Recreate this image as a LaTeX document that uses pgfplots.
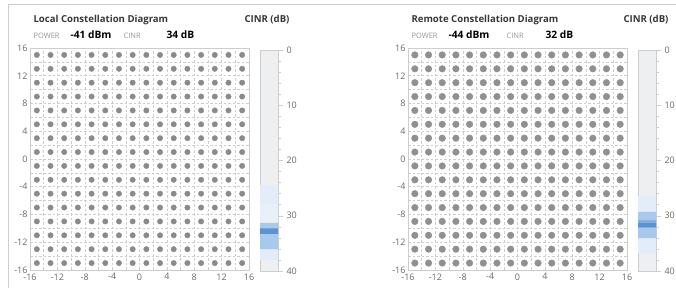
\documentclass[border=0pt]{standalone}
\usepackage{pgfplots}
\pgfplotsset{compat=1.18}
\usepackage{pgfplotstable}
\usepackage{fontspec}
\setmainfont{Open Sans}
\definecolor{framegray}{RGB}{205,205,205}
\definecolor{gridgray}{RGB}{205,205,205}
\definecolor{labgray}{RGB}{105,105,105}
\definecolor{dotgray}{RGB}{138,138,138}
\definecolor{titlegray}{RGB}{55,55,55}
\definecolor{smallgray}{RGB}{150,150,150}
\definecolor{barbg}{RGB}{238,239,241}
\definecolor{blue0}{RGB}{234,240,248}
\definecolor{blue1}{RGB}{226,237,249}
\definecolor{blue2}{RGB}{168,201,236}
\definecolor{blue3}{RGB}{92,146,210}
\definecolor{blue4}{RGB}{135,176,225}

\pgfplotstableread[row sep=\\]{
x y \\
-15 15\\ -13 15\\ -11 15\\ -9 15\\ -7 15\\ -5 15\\ -3 15\\ -1 15\\ 1 15\\ 3 15\\ 5 15\\ 7 15\\ 9 15\\ 11 15\\ 13 15\\ 15 15\\
-15 13\\ -13 13\\ -11 13\\ -9 13\\ -7 13\\ -5 13\\ -3 13\\ -1 13\\ 1 13\\ 3 13\\ 5 13\\ 7 13\\ 9 13\\ 11 13\\ 13 13\\ 15 13\\
-15 11\\ -13 11\\ -11 11\\ -9 11\\ -7 11\\ -5 11\\ -3 11\\ -1 11\\ 1 11\\ 3 11\\ 5 11\\ 7 11\\ 9 11\\ 11 11\\ 13 11\\ 15 11\\
-15 9\\ -13 9\\ -11 9\\ -9 9\\ -7 9\\ -5 9\\ -3 9\\ -1 9\\ 1 9\\ 3 9\\ 5 9\\ 7 9\\ 9 9\\ 11 9\\ 13 9\\ 15 9\\
-15 7\\ -13 7\\ -11 7\\ -9 7\\ -7 7\\ -5 7\\ -3 7\\ -1 7\\ 1 7\\ 3 7\\ 5 7\\ 7 7\\ 9 7\\ 11 7\\ 13 7\\ 15 7\\
-15 5\\ -13 5\\ -11 5\\ -9 5\\ -7 5\\ -5 5\\ -3 5\\ -1 5\\ 1 5\\ 3 5\\ 5 5\\ 7 5\\ 9 5\\ 11 5\\ 13 5\\ 15 5\\
-15 3\\ -13 3\\ -11 3\\ -9 3\\ -7 3\\ -5 3\\ -3 3\\ -1 3\\ 1 3\\ 3 3\\ 5 3\\ 7 3\\ 9 3\\ 11 3\\ 13 3\\ 15 3\\
-15 1\\ -13 1\\ -11 1\\ -9 1\\ -7 1\\ -5 1\\ -3 1\\ -1 1\\ 1 1\\ 3 1\\ 5 1\\ 7 1\\ 9 1\\ 11 1\\ 13 1\\ 15 1\\
-15 -1\\ -13 -1\\ -11 -1\\ -9 -1\\ -7 -1\\ -5 -1\\ -3 -1\\ -1 -1\\ 1 -1\\ 3 -1\\ 5 -1\\ 7 -1\\ 9 -1\\ 11 -1\\ 13 -1\\ 15 -1\\
-15 -3\\ -13 -3\\ -11 -3\\ -9 -3\\ -7 -3\\ -5 -3\\ -3 -3\\ -1 -3\\ 1 -3\\ 3 -3\\ 5 -3\\ 7 -3\\ 9 -3\\ 11 -3\\ 13 -3\\ 15 -3\\
-15 -5\\ -13 -5\\ -11 -5\\ -9 -5\\ -7 -5\\ -5 -5\\ -3 -5\\ -1 -5\\ 1 -5\\ 3 -5\\ 5 -5\\ 7 -5\\ 9 -5\\ 11 -5\\ 13 -5\\ 15 -5\\
-15 -7\\ -13 -7\\ -11 -7\\ -9 -7\\ -7 -7\\ -5 -7\\ -3 -7\\ -1 -7\\ 1 -7\\ 3 -7\\ 5 -7\\ 7 -7\\ 9 -7\\ 11 -7\\ 13 -7\\ 15 -7\\
-15 -9\\ -13 -9\\ -11 -9\\ -9 -9\\ -7 -9\\ -5 -9\\ -3 -9\\ -1 -9\\ 1 -9\\ 3 -9\\ 5 -9\\ 7 -9\\ 9 -9\\ 11 -9\\ 13 -9\\ 15 -9\\
-15 -11\\ -13 -11\\ -11 -11\\ -9 -11\\ -7 -11\\ -5 -11\\ -3 -11\\ -1 -11\\ 1 -11\\ 3 -11\\ 5 -11\\ 7 -11\\ 9 -11\\ 11 -11\\ 13 -11\\ 15 -11\\
-15 -13\\ -13 -13\\ -11 -13\\ -9 -13\\ -7 -13\\ -5 -13\\ -3 -13\\ -1 -13\\ 1 -13\\ 3 -13\\ 5 -13\\ 7 -13\\ 9 -13\\ 11 -13\\ 13 -13\\ 15 -13\\
-15 -15\\ -13 -15\\ -11 -15\\ -9 -15\\ -7 -15\\ -5 -15\\ -3 -15\\ -1 -15\\ 1 -15\\ 3 -15\\ 5 -15\\ 7 -15\\ 9 -15\\ 11 -15\\ 13 -15\\ 15 -15\\
}\qam

\pgfplotsset{
  qam/.style={
    scale only axis, width=219pt, height=222pt,
    anchor=south west,
    xmin=-16, xmax=16, ymin=-16, ymax=16,
    xtick={-16,-12,...,16}, xticklabels={-16,-12,-8,-4,0,4,8,12,16},
    ytick={-16,-12,...,16}, yticklabels={-16,-12,-8,-4,0,4,8,12,16},
    minor xtick={-14,-10,...,14}, minor ytick={-14,-10,...,14},
    grid=both,
    major grid style={gridgray, dash pattern=on 2.5pt off 2pt, line width=0.5pt},
    minor grid style={gridgray, dash pattern=on 2.5pt off 2pt, line width=0.5pt},
    major tick length=0pt, minor tick length=0pt,
    axis line style={framegray, line width=0.6pt},
    ticklabel style={font=\fontsize{9}{10}\selectfont, text=labgray},
    xticklabel style={yshift=0pt},
    yticklabel style={xshift=1pt},
  },
  cbar/.style={
    scale only axis, width=18pt, height=221pt,
    anchor=south west,
    xmin=0, xmax=1, ymin=0, ymax=40, y dir=reverse,
    xtick=\empty,
    ytick={0,10,20,30,40}, yticklabels={0,10,20,30,40},
    minor ytick={2,4,...,38},
    ytick pos=right, yticklabel pos=right,
    tick align=outside,
    major tick length=5pt, minor tick length=3pt,
    tick style={gridgray, line width=0.5pt},
    axis background/.style={fill=barbg},
    axis line style={framegray, line width=0.6pt},
    ticklabel style={font=\fontsize{9}{10}\selectfont, text=labgray},
  },
}

\begin{document}
\begin{tikzpicture}
\useasboundingbox (0,0) rectangle (676pt,288pt);
\draw[framegray, line width=1pt] (8pt,0pt) -- (8pt,283pt) -- (676pt,283pt);

% ---------- Local ----------
\node[anchor=base west, text=titlegray, font=\fontsize{9.6}{11}\selectfont\bfseries] at (30pt,265pt) {Local Constellation Diagram};
\node[anchor=base east, text=titlegray, font=\fontsize{9.6}{11}\selectfont\bfseries] at (293pt,265pt) {CINR (dB)};
\node[anchor=base west, text=smallgray, font=\fontsize{7.5}{9}\selectfont] at (30pt,249pt) {POWER};
\node[anchor=base west, text=black, font=\fontsize{10.2}{12}\selectfont\bfseries] at (67pt,249pt) {-41 dBm};
\node[anchor=base west, text=smallgray, font=\fontsize{7.5}{9}\selectfont] at (120pt,249pt) {CINR};
\node[anchor=base west, text=black, font=\fontsize{10.2}{12}\selectfont\bfseries] at (163pt,249pt) {34 dB};

\begin{axis}[qam, at={(30pt,18pt)}]
\addplot[only marks, mark=*, mark size=2.7pt, color=dotgray] table[x=x,y=y] {\qam};
\end{axis}

\begin{axis}[cbar, at={(260pt,17pt)}]
\addplot[draw=none, fill=blue0] coordinates {(0,24.5) (1,24.5) (1,31.3) (0,31.3) (0,24.5)};
\addplot[draw=none, fill=blue1] coordinates {(0,24.5) (1,24.5) (1,27.8) (0,27.8) (0,24.5)};
\addplot[draw=none, fill=blue2] coordinates {(0,31.3) (1,31.3) (1,36.1) (0,36.1) (0,31.3)};
\addplot[draw=none, fill=blue3] coordinates {(0,32.3) (1,32.3) (1,33.3) (0,33.3) (0,32.3)};
\addplot[draw=none, fill=blue1] coordinates {(0,36.1) (1,36.1) (1,38) (0,38) (0,36.1)};
\end{axis}

% ---------- Remote ----------
\node[anchor=base west, text=titlegray, font=\fontsize{9.6}{11}\selectfont\bfseries] at (408pt,265pt) {Remote Constellation Diagram};
\node[anchor=base east, text=titlegray, font=\fontsize{9.6}{11}\selectfont\bfseries] at (672pt,265pt) {CINR (dB)};
\node[anchor=base west, text=smallgray, font=\fontsize{7.5}{9}\selectfont] at (408pt,249pt) {POWER};
\node[anchor=base west, text=black, font=\fontsize{10.2}{12}\selectfont\bfseries] at (445pt,249pt) {-44 dBm};
\node[anchor=base west, text=smallgray, font=\fontsize{7.5}{9}\selectfont] at (503pt,249pt) {CINR};
\node[anchor=base west, text=black, font=\fontsize{10.2}{12}\selectfont\bfseries] at (542pt,249pt) {32 dB};

\begin{axis}[qam, at={(408pt,18pt)}]
\addplot[only marks, mark=*, mark size=3.3pt, color=dotgray!95] table[x=x,y=y] {\qam};
\end{axis}

\begin{axis}[cbar, at={(638pt,17pt)}]
\addplot[draw=none, fill=blue1] coordinates {(0,26.4) (1,26.4) (1,29.3) (0,29.3) (0,26.4)};
\addplot[draw=none, fill=blue2] coordinates {(0,29.3) (1,29.3) (1,34.1) (0,34.1) (0,29.3)};
\addplot[draw=none, fill=blue4] coordinates {(0,30.8) (1,30.8) (1,32.2) (0,32.2) (0,30.8)};
\addplot[draw=none, fill=blue3] coordinates {(0,31.3) (1,31.3) (1,32.0) (0,32.0) (0,31.3)};
\addplot[draw=none, fill=blue1] coordinates {(0,34.1) (1,34.1) (1,36.8) (0,36.8) (0,34.1)};
\end{axis}
\end{tikzpicture}
\end{document}
